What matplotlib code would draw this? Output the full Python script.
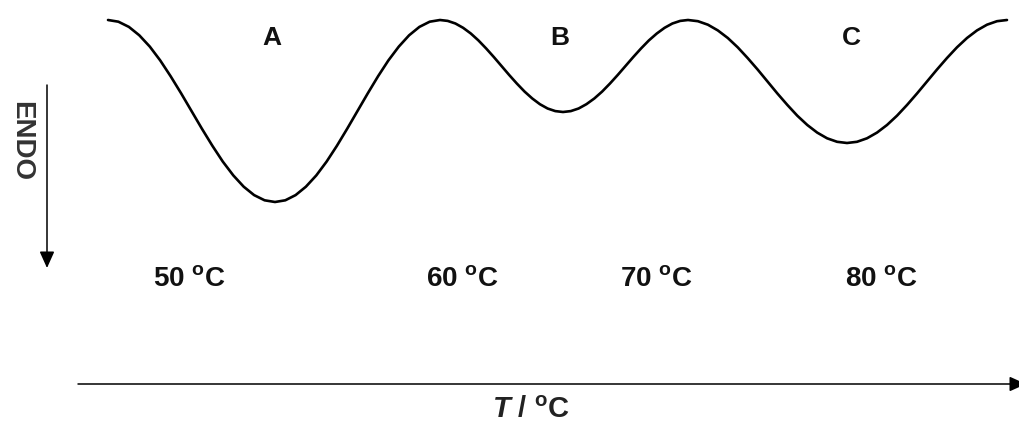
import matplotlib
matplotlib.use("Agg")
import matplotlib.pyplot as plt

plt.rcParams['font.family'] = ['Liberation Sans', 'DejaVu Sans']
plt.rcParams['mathtext.fontset'] = 'custom'
plt.rcParams['mathtext.rm'] = 'Liberation Sans:bold'
plt.rcParams['mathtext.it'] = 'Liberation Sans:italic:bold'

# DSC-like trace (x ~ temperature axis, y ~ heat flow, endo down)
curve_x = [108, 118.4, 128.9, 139.3, 149.8, 160.2, 170.6, 181.1,
           191.5, 201.9, 212.4, 222.8, 233.3, 243.7, 254.1, 264.6,
           275, 285.3, 295.6, 305.9, 316.3, 326.6, 336.9, 347.2,
           357.5, 367.8, 378.1, 388.4, 398.8, 409.1, 419.4, 429.7,
           440, 447.7, 455.4, 463.1, 470.8, 478.4, 486.1, 493.8,
           501.5, 509.2, 516.9, 524.6, 532.3, 539.9, 547.6, 555.3,
           563, 570.8, 578.6, 586.4, 594.3, 602.1, 609.9, 617.7,
           625.5, 633.3, 641.1, 648.9, 656.8, 664.6, 672.4, 680.2,
           688, 697.9, 707.9, 717.8, 727.8, 737.7, 747.6, 757.6,
           767.5, 777.4, 787.4, 797.3, 807.3, 817.2, 827.1, 837.1,
           847, 857, 867, 877, 887, 897, 907, 917,
           927, 937, 947, 957, 967, 977, 987, 997, 1007]
curve_y = [20, 21.7, 26.9, 35.3, 46.6, 60.4, 76.2, 93.3,
           111, 128.7, 145.8, 161.6, 175.4, 186.7, 195.1, 200.3,
           202, 200.3, 195.1, 186.7, 175.4, 161.6, 145.8, 128.7,
           111, 93.3, 76.2, 60.4, 46.6, 35.3, 26.9, 21.7,
           20, 20.9, 23.5, 27.8, 33.5, 40.4, 48.4, 57.0,
           66, 75.0, 83.6, 91.6, 98.5, 104.2, 108.5, 111.1,
           112, 111.1, 108.5, 104.2, 98.5, 91.6, 83.6, 75.0,
           66, 57.0, 48.4, 40.4, 33.5, 27.8, 23.5, 20.9,
           20, 21.2, 24.7, 30.4, 38.0, 47.3, 58.0, 69.5,
           81.5, 93.5, 105.0, 115.7, 125.0, 132.6, 138.3, 141.8,
           143, 141.8, 138.3, 132.6, 125.0, 115.7, 105.0, 93.5,
           81.5, 69.5, 58.0, 47.3, 38.0, 30.4, 24.7, 21.2, 20]

peak_names = ['A', 'B', 'C']
temps = ['50', '60', '70', '80']

fig = plt.figure(figsize=(10.2, 4.23), dpi=100)
ax = fig.add_axes([0, 0, 1, 1])
ax.set_xlim(0, 1020)
ax.set_ylim(423, 0)
ax.axis('off')

ax.plot(curve_x, curve_y, color='black', lw=1.9, solid_joinstyle='round',
        solid_capstyle='round')

for name, xp in zip(peak_names, [272, 560, 851]):
    ax.text(xp, 38, name, ha='center', va='center', fontsize=19,
            fontweight='bold', color='#111111')

for t, xp in zip(temps, [189, 462, 656, 881]):
    ax.text(xp, 279, t + r' $^{\mathrm{o}}$C', ha='center', va='center',
            fontsize=20, fontweight='bold', color='#111111')

# ENDO arrow (down)
ax.annotate('', xy=(47, 268), xytext=(47, 85),
            arrowprops=dict(arrowstyle='-|>,head_length=1.0,head_width=0.45',
                            color='black', lw=1.1, shrinkA=0, shrinkB=0))
ax.text(21, 141, 'ENDO', rotation=-90, ha='center', va='center',
        fontsize=20, fontweight='bold', color='#333333')

# temperature axis arrow
ax.annotate('', xy=(1026, 384), xytext=(78, 384), annotation_clip=False,
            arrowprops=dict(arrowstyle='-|>,head_length=1.0,head_width=0.45',
                            color='black', lw=1.1, shrinkA=0, shrinkB=0))
ax.text(531, 410, r'$\mathit{T}$ / $^{\mathrm{o}}$C', ha='center', va='center',
        fontsize=21, fontweight='bold', color='#222222')

fig.savefig('out.png', dpi=100, facecolor='white')
